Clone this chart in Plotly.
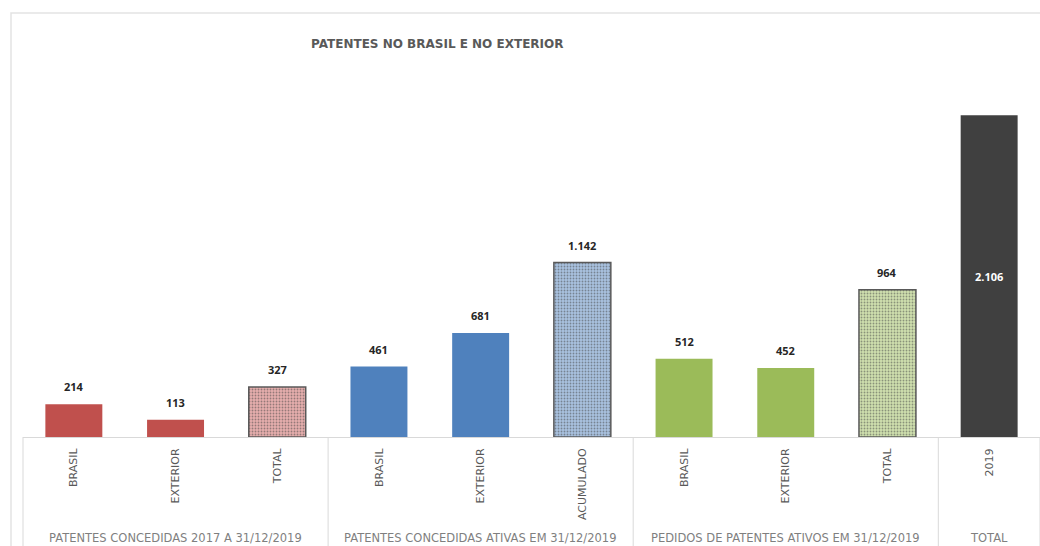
import plotly.graph_objects as go

# ---- data ----
categories = ["BRASIL", "EXTERIOR", "TOTAL",
              "BRASIL", "EXTERIOR", "ACUMULADO",
              "BRASIL", "EXTERIOR", "TOTAL",
              "2019"]
values = [214, 113, 327, 461, 681, 1142, 512, 452, 964, 2106]
value_labels = ["214", "113", "327", "461", "681", "1.142", "512", "452", "964", "2.106"]
groups = ["PATENTES CONCEDIDAS 2017 A 31/12/2019",
          "PATENTES CONCEDIDAS ATIVAS EM 31/12/2019",
          "PEDIDOS DE PATENTES ATIVOS EM 31/12/2019",
          "TOTAL"]
group_sizes = [3, 3, 3, 1]
title = "PATENTES NO BRASIL E NO EXTERIOR"

# ---- styles ----
bar_colors = ["#C0504D", "#C0504D", "#E6AEAD",
              "#4F81BD", "#4F81BD", "#A9C2E0",
              "#9BBB59", "#9BBB59", "#CFE0AE",
              "#404040"]
pattern_shapes = ["", "", ".", "", "", ".", "", "", ".", ""]
pattern_fg = ["#C0504D", "#C0504D", "#D99997",
              "#4F81BD", "#4F81BD", "#97B4D7",
              "#9BBB59", "#9BBB59", "#BDD293",
              "#404040"]
line_colors = ["#C0504D", "#C0504D", "#595959",
               "#4F81BD", "#4F81BD", "#595959",
               "#9BBB59", "#9BBB59", "#595959",
               "#404040"]
line_widths = [0, 0, 1.5, 0, 0, 1.5, 0, 0, 1.5, 0]

n = len(values)
xs = list(range(n))

fig = go.Figure()
fig.add_trace(go.Bar(
    x=xs, y=values, width=0.56,
    marker=dict(
        color=bar_colors,
        line=dict(color=line_colors, width=line_widths),
        pattern=dict(shape=pattern_shapes, fgcolor=pattern_fg,
                     bgcolor=bar_colors, size=3, solidity=0.3),
    ),
    hoverinfo="skip",
))

font_family = "Open Sans, Liberation Sans, sans-serif"
wide_font = "DejaVu Sans, Verdana, sans-serif"

# value labels
for i, (v, lab) in enumerate(zip(values, value_labels)):
    if i == n - 1:
        fig.add_annotation(x=i, y=v / 2, text="<b>" + lab + "</b>",
                           showarrow=False, xref="x", yref="y",
                           font=dict(size=11, color="#FFFFFF", family=font_family))
    else:
        fig.add_annotation(x=i, y=v, text="<b>" + lab + "</b>",
                           showarrow=False, xref="x", yref="y",
                           yanchor="bottom", yshift=8,
                           font=dict(size=11, color="#262626", family=font_family))

# layout geometry
W, H = 1040, 546
ml, mr, mt, mb = 23, 0, 55, 109
plot_h = H - mt - mb
plot_w = W - ml - mr

def px_to_py(py):
    return (H - mb - py) / plot_h

def px_to_px(px):
    return (px - ml) / plot_w

# group labels & dividers
start = 0
bounds = [-0.5]
for g, s in zip(groups, group_sizes):
    center = start + (s - 1) / 2
    fig.add_annotation(x=center, y=px_to_py(538), xref="x", yref="paper",
                       text=g, showarrow=False, yanchor="middle",
                       font=dict(size=11.5, color="#7F7F7F", family=wide_font))
    start += s
    bounds.append(start - 0.5)

for b in bounds:
    xp = (b + 0.5) / n
    fig.add_shape(type="line", xref="paper", yref="paper",
                  x0=xp, x1=xp, y0=0, y1=px_to_py(H + 5),
                  line=dict(color="#D9D9D9", width=1))

# outer frame
fig.add_shape(type="rect", xref="paper", yref="paper",
              x0=px_to_px(11), x1=px_to_px(W + 20),
              y0=px_to_py(H + 20), y1=px_to_py(13),
              line=dict(color="#E3E3E3", width=1.5), layer="below")

# title
fig.add_annotation(x=px_to_px(437), y=px_to_py(44), xref="paper", yref="paper",
                   text="<b>" + title + "</b>", showarrow=False,
                   yanchor="middle",
                   font=dict(size=12, color="#595959", family=wide_font))

fig.update_layout(
    width=W, height=H,
    margin=dict(l=ml, r=mr, t=mt, b=mb),
    paper_bgcolor="white", plot_bgcolor="white",
    showlegend=False,
    font=dict(family=font_family),
)
fig.update_xaxes(
    range=[-0.5, n - 0.5],
    tickmode="array", tickvals=xs, ticktext=categories,
    tickangle=-90, ticks="", showgrid=False, zeroline=False,
    showline=True, linecolor="#D9D9D9", linewidth=1,
    tickfont=dict(size=11, color="#595959", family=wide_font),
    ticklabelstandoff=6,
)
fig.update_yaxes(range=[0, 2500], visible=False, showgrid=False)

fig.write_html("out.html")
